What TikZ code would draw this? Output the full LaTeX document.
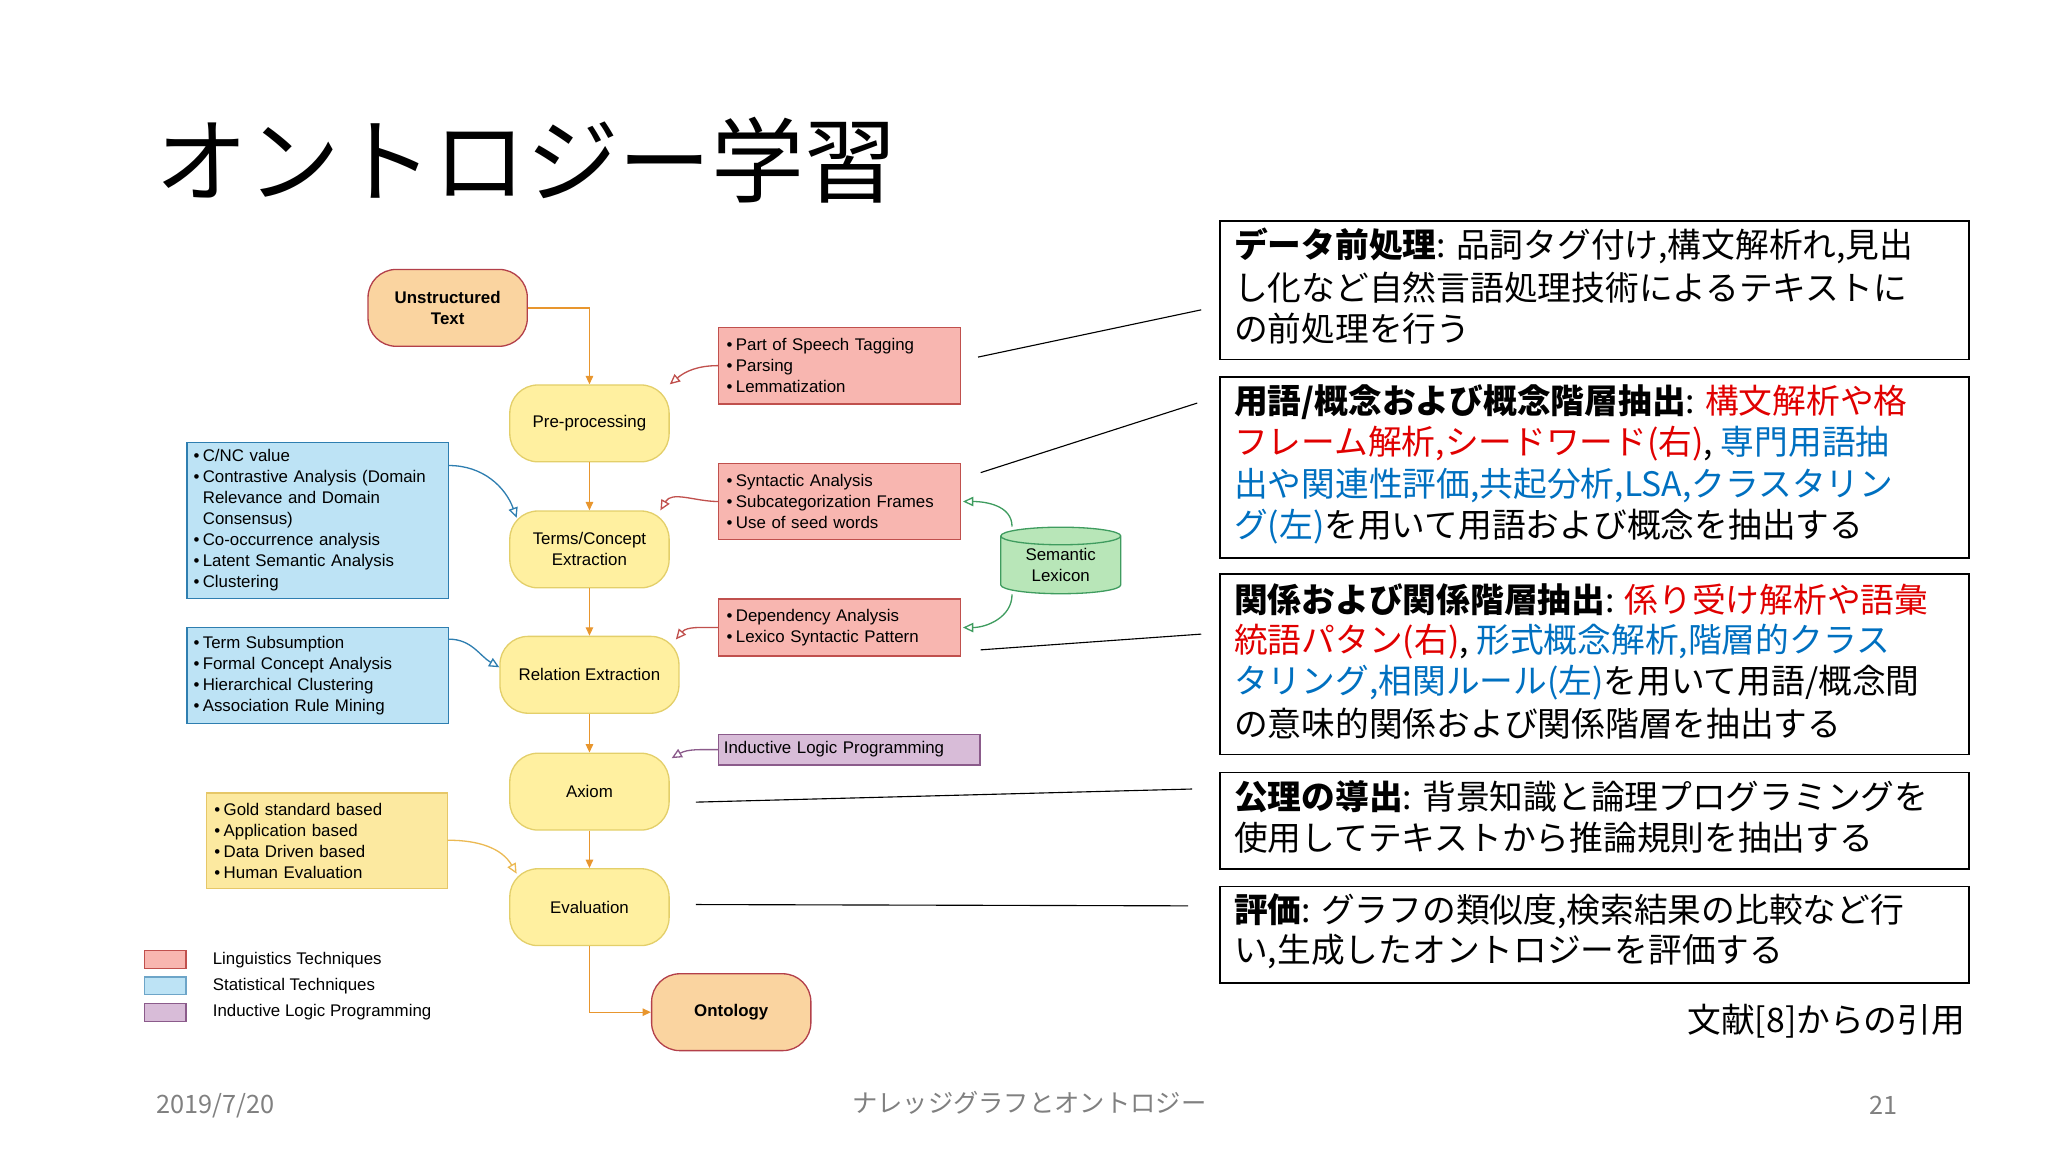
\documentclass[tikz,border=0pt]{standalone}
\usepackage{fontspec}
\setmainfont{Liberation Sans}
\newfontfamily\jp{Noto Sans CJK JP}
\usetikzlibrary{arrows.meta,shapes.geometric}
\definecolor{pinkF}{HTML}{F8B6B0}\definecolor{pinkD}{HTML}{C0504D}
\definecolor{blueF}{HTML}{BDE3F5}\definecolor{blueD}{HTML}{2E7EB0}
\definecolor{yelF}{HTML}{FFF0A0}\definecolor{yelD}{HTML}{E3CF6A}
\definecolor{yboxF}{HTML}{FCE9A0}\definecolor{yboxD}{HTML}{E6C768}
\definecolor{orF}{HTML}{FAD4A0}\definecolor{orD}{HTML}{B3404A}
\definecolor{purF}{HTML}{D8BCD8}\definecolor{purD}{HTML}{8B5B8B}
\definecolor{grnF}{HTML}{B8E6B8}\definecolor{grnD}{HTML}{3F9C5F}
\definecolor{flowC}{HTML}{E8962E}
\definecolor{jred}{HTML}{E00000}\definecolor{jblue}{HTML}{0070C0}
\newcommand\itm{\makebox[0.55em][l]{\textbullet}}
\newcommand\cnt{\hspace*{0.55em}}
\begin{document}
\begin{tikzpicture}[x=0.4924mm,y=-0.4924mm,
  dfont/.style={font=\fontsize{18}{22.4}\selectfont},
  proc/.style={dfont,draw=yelD,fill=yelF,line width=1.4pt,rounded corners=30pt,minimum width=170pt,minimum height=82pt,align=center,inner sep=0},
  term/.style={proc,draw=orD,fill=orF},
  box/.style={dfont,line width=1.4pt,inner sep=0,align=left},
  ling/.style={box,draw=pinkD,fill=pinkF},
  stat/.style={box,draw=blueD,fill=blueF},
  flow/.style={draw=flowC,line width=1.4pt,-{Triangle[length=9pt,width=8pt]}},
  tip/.style={line width=1.4pt,-{Triangle[open,length=11pt,width=10pt]}},
  rbox/.style={draw=black,line width=1.6pt,minimum width=799pt},
  jl/.style={anchor=west,inner sep=0,font=\jp\fontsize{36}{40}\selectfont},
  lead/.style={draw=black,line width=1.2pt}]
\useasboundingbox (0,0) rectangle (1560,877.7);
% title
\node[anchor=west,inner sep=0,font=\jp\fontsize{99}{110}\selectfont] (title) at (118,122) {オントロジー学習};
% flow nodes
\node[term,font=\bfseries\fontsize{18}{22.4}\selectfont] (un) at (341,234.5) {Unstructured\\Text};
\node[proc] (pre) at (449,322.5) {Pre-processing};
\node[proc] (ter) at (449,418.5) {Terms/Concept\\Extraction};
\node[proc,minimum width=191pt] (rel) at (449,514) {Relation Extraction};
\node[proc] (axi) at (449,603) {Axiom};
\node[proc] (eva) at (449,691) {Evaluation};
\node[term,font=\bfseries\fontsize{18}{22.4}\selectfont] (ont) at (557,771) {Ontology};
\draw[flow] (un.east) -| (pre.north);
\draw[flow] (pre.south) -- (ter.north);
\draw[flow] (ter.south) -- (rel.north);
\draw[flow] (rel.south) -- (axi.north);
\draw[flow] (axi.south) -- (eva.north);
\draw[flow] (eva.south) |- (ont.west);
% technique boxes
\node[ling,minimum width=258pt,minimum height=82pt,text width=241pt] (pos) at (639.5,278.5)
 {\itm Part of Speech Tagging\\\itm Parsing\\\itm Lemmatization};
\node[ling,minimum width=258pt,minimum height=81pt,text width=241pt] (syn) at (639.5,382)
 {\itm Syntactic Analysis\\\itm Subcategorization Frames\\\itm Use of seed words};
\node[ling,minimum width=258pt,minimum height=61pt,text width=241pt] (dep) at (639.5,478)
 {\itm Dependency Analysis\\\itm Lexico Syntactic Pattern};
\node[box,draw=purD,fill=purF,minimum width=279pt,minimum height=33pt,text width=268pt] (ilp) at (647,571)
 {Inductive Logic Programming};
\node[stat,minimum width=279pt,minimum height=166pt,text width=265pt] (st1) at (242,396.5)
 {\itm C/NC value\\\itm Contrastive Analysis (Domain\\\cnt Relevance and Domain\\\cnt Consensus)\\\itm Co-occurrence analysis\\\itm Latent Semantic Analysis\\\itm Clustering};
\node[stat,minimum width=279pt,minimum height=102pt,text width=265pt] (st2) at (242,514.5)
 {\itm Term Subsumption\\\itm Formal Concept Analysis\\\itm Hierarchical Clustering\\\itm Association Rule Mining};
\node[box,draw=yboxD,fill=yboxF,minimum width=257pt,minimum height=102pt,text width=240pt] (evb) at (249,640.5)
 {\itm Gold standard based\\\itm Application based\\\itm Data Driven based\\\itm Human Evaluation};
\node[dfont,cylinder,shape border rotate=90,aspect=0.25,draw=grnD,fill=grnF,line width=1.4pt,
  minimum width=128pt,minimum height=71pt,align=center,inner sep=0] (lex) at (808,430.5) {Semantic\\Lexicon};
% technique arrows
\draw[tip,draw=pinkD] (pos.west) to[out=180,in=40] (pre.north east);
\draw[tip,draw=pinkD] (syn.west) to[out=180,in=60] ([xshift=-10pt]ter.north east);
\draw[tip,draw=pinkD] (dep.west) to[out=180,in=50] ([xshift=-4pt,yshift=-4pt]rel.north east);
\draw[tip,draw=purD] (ilp.west) to[out=180,in=30] ([xshift=2pt,yshift=-6pt]axi.north east);
\draw[tip,draw=blueD] ([yshift=-25pt]st1.north east) to[out=0,in=110] ([xshift=8pt,yshift=-8pt]ter.north west);
\draw[tip,draw=blueD] ([yshift=-13pt]st2.north east) to[out=0,in=150] ([yshift=8pt]rel.west);
\draw[tip,draw=yboxD!80!orange] ([yshift=-51pt]evb.north east) to[out=0,in=120] ([xshift=8pt,yshift=-6pt]eva.north west);
\draw[tip,draw=grnD] ([xshift=-52pt]lex.top) to[out=90,in=0] ([xshift=2pt]syn.east);
\draw[tip,draw=grnD] ([xshift=-52pt]lex.bottom) to[out=-90,in=0] ([xshift=2pt]dep.east);
% legend
\node[draw=pinkD,fill=pinkF,line width=1.2pt,minimum width=44pt,minimum height=19pt,inner sep=0] (lg1) at (126,731) {};
\node[draw=blueD!70,fill=blueF,line width=1.2pt,minimum width=44pt,minimum height=19pt,inner sep=0] (lg2) at (126,751) {};
\node[draw=purD,fill=purF,line width=1.2pt,minimum width=44pt,minimum height=19pt,inner sep=0] (lg3) at (126,771) {};
\node[dfont,anchor=west,inner sep=0] (lt1) at (162,731) {Linguistics Techniques};
\node[dfont,anchor=west,inner sep=0] (lt2) at (162,751) {Statistical Techniques};
\node[dfont,anchor=west,inner sep=0] (lt3) at (162,771) {Inductive Logic Programming};
% right boxes
\node[rbox,minimum height=148pt] (r1) at (1214.5,221) {};
\node[rbox,minimum height=193pt] (r2) at (1214.5,356) {};
\node[rbox,minimum height=193pt] (r3) at (1214.5,506) {};
\node[rbox,minimum height=103pt] (r4) at (1214.5,625) {};
\node[rbox,minimum height=103pt] (r5) at (1214.5,712) {};
\node[jl] (a1) at (940,187) {\textbf{データ前処理}: 品詞タグ付け,構文解析れ,見出};
\node[jl] (a2) at (940,219) {し化など自然言語処理技術によるテキストに};
\node[jl] (a3) at (940,250) {の前処理を行う};
\node[jl] (b1) at (940,306) {\textbf{用語/概念および概念階層抽出}: \textcolor{jred}{構文解析や格}};
\node[jl] (b2) at (940,338) {\textcolor{jred}{フレーム解析,シードワード(右)}, \textcolor{jblue}{専門用語抽}};
\node[jl] (b3) at (940,370) {\textcolor{jblue}{出や関連性評価,共起分析,LSA,クラスタリン}};
\node[jl] (b4) at (940,401) {\textcolor{jblue}{グ(左)}を用いて用語および概念を抽出する};
\node[jl] (c1) at (940,457) {\textbf{関係および関係階層抽出}: \textcolor{jred}{係り受け解析や語彙}};
\node[jl] (c2) at (940,489) {\textcolor{jred}{統語パタン(右)}, \textcolor{jblue}{形式概念解析,階層的クラス}};
\node[jl] (c3) at (940,520) {\textcolor{jblue}{タリング,相関ルール(左)}を用いて用語/概念間};
\node[jl] (c4) at (940,551) {の意味的関係および関係階層を抽出する};
\node[jl] (d1) at (940,607) {\textbf{公理の導出}: 背景知識と論理プログラミングを};
\node[jl] (d2) at (940,638) {使用してテキストから推論規則を抽出する};
\node[jl] (e1) at (940,694) {\textbf{評価}: グラフの類似度,検索結果の比較など行};
\node[jl] (e2) at (940,725) {い,生成したオントロジーを評価する};
\node[jl,anchor=east] (cite) at (1497,778) {文献[8]からの引用};
% leader lines
\coordinate (l1) at (915,236); \coordinate (l2) at (912,307); \coordinate (l3) at (915,483);
\coordinate (l4) at (908,601); \coordinate (l5) at (905,690);
\coordinate (s1) at (745,272); \coordinate (s2) at (747,360); \coordinate (s3) at (747,495);
\coordinate (s4) at (530,611); \coordinate (s5) at (530,689);
\draw[lead] (s1) -- (l1); \draw[lead] (s2) -- (l2); \draw[lead] (s3) -- (l3);
\draw[lead] (s4) -- (l4); \draw[lead] (s5) -- (l5);
% footer
\node[jl,font=\jp\fontsize{27}{30}\selectfont,text=gray] (date) at (119,842) {2019/7/20};
\node[inner sep=0,font=\jp\fontsize{27}{30}\selectfont,text=gray] (foot) at (784,840) {ナレッジグラフとオントロジー};
\node[inner sep=0,font=\jp\fontsize{27}{30}\selectfont,text=gray] (pg) at (1435,842) {21};
\end{tikzpicture}
\end{document}
